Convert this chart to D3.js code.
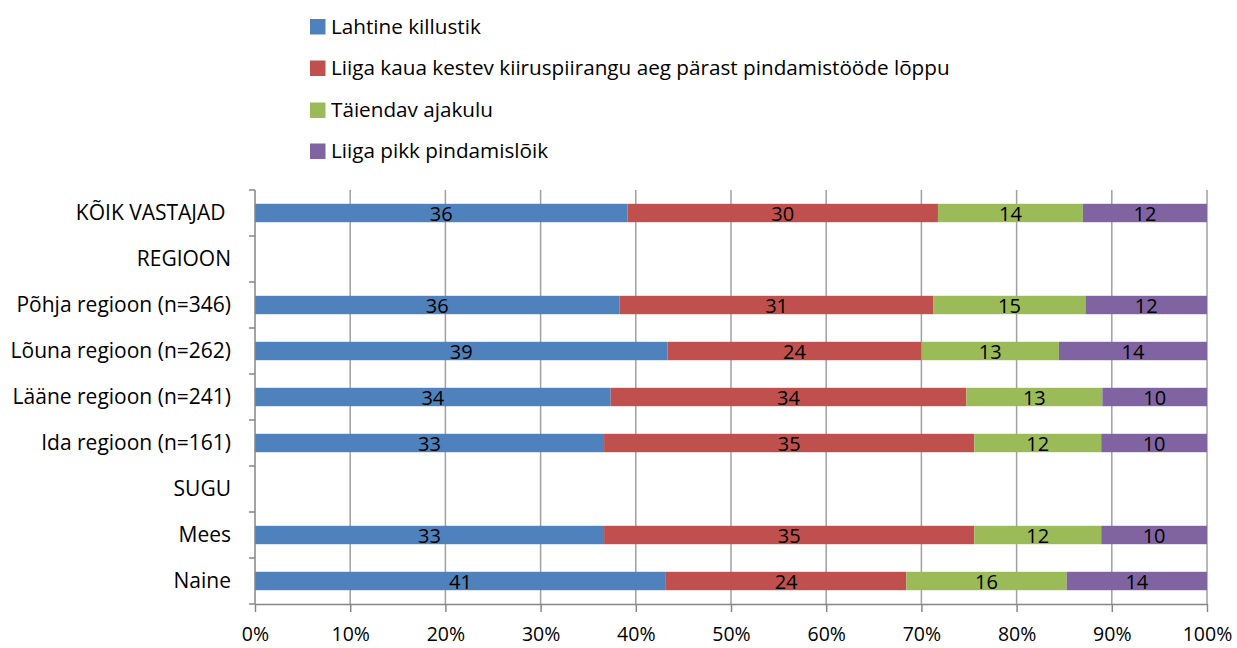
<!DOCTYPE html>
<html>
<head>
<meta charset="utf-8">
<title>Pindamistööd</title>
<style>
body { margin: 0; background: #fff; }
text { font-family: "Open Sans", sans-serif; fill: #000; }
.grid line { stroke: #a0a0a0; stroke-width: 1.5; }
.axis path, .axis line { stroke: #868686; stroke-width: 1.5; }
</style>
</head>
<body>
<svg width="1237" height="648"></svg>
<script src="https://d3js.org/d3.v7.min.js"></script>
<script>

// categories, top to bottom
var categories = ["KÕIK VASTAJAD ", "REGIOON", "Põhja regioon (n=346)", "Lõuna regioon (n=262)",
                  "Lääne regioon (n=241)", "Ida regioon (n=161)", "SUGU", "Mees", "Naine"];

var seriesNames = ["Lahtine killustik",
                   "Liiga kaua kestev kiiruspiirangu aeg pärast pindamistööde lõppu",
                   "Täiendav ajakulu",
                   "Liiga pikk pindamislõik"];

var colors = ["#4f81bd", "#c0504d", "#9bbb59", "#8064a2"];

// values per series (null = header row, no bar)
var lahtine   = [36, null, 36, 39, 34, 33, null, 33, 41];
var kiirus    = [30, null, 31, 24, 34, 35, null, 35, 24];
var ajakulu   = [14, null, 15, 13, 13, 12, null, 12, 16];
var pindamis  = [12, null, 12, 14, 10, 10, null, 10, 14];

var tickLabels = ["0%", "10%", "20%", "30%", "40%", "50%", "60%", "70%", "80%", "90%", "100%"];

var allSeries = [lahtine, kiirus, ajakulu, pindamis];

var svg = d3.select("svg"),
    margin = {top: 190, right: 30, bottom: 44, left: 255},
    width = 1207 - margin.left,
    height = 604 - margin.top;

var x = d3.scaleLinear().domain([0, 1]).range([0, width]);
var y = d3.scaleBand().domain(categories).range([0, height]).paddingInner(0.6).paddingOuter(0.3);

var g = svg.append("g")
    .attr("transform", "translate(" + margin.left + "," + margin.top + ")");

// vertical gridlines
g.append("g")
    .attr("class", "grid")
  .selectAll("line")
  .data(d3.range(1, 11))
  .enter().append("line")
    .attr("x1", function(d) { return x(d / 10); })
    .attr("x2", function(d) { return x(d / 10); })
    .attr("y1", 0)
    .attr("y2", height);

// build stacked rows normalised to 100%
var rows = categories.map(function(c, i) {
  var vals = allSeries.map(function(s) { return s[i]; });
  if (vals[0] == null) return null;
  var total = d3.sum(vals), cum = 0;
  return vals.map(function(v, k) {
    var seg = {cat: c, k: k, v: v, x0: cum / total, x1: (cum + v) / total};
    cum += v;
    return seg;
  });
}).filter(function(r) { return r; });

var segs = [].concat.apply([], rows);

g.selectAll(".bar")
  .data(segs)
  .enter().append("rect")
    .attr("class", "bar")
    .attr("x", function(d) { return x(d.x0); })
    .attr("y", function(d) { return y(d.cat); })
    .attr("width", function(d) { return x(d.x1) - x(d.x0); })
    .attr("height", y.bandwidth())
    .attr("fill", function(d) { return colors[d.k]; });

g.selectAll(".lbl")
  .data(segs)
  .enter().append("text")
    .attr("class", "lbl")
    .attr("x", function(d) { return x((d.x0 + d.x1) / 2); })
    .attr("y", function(d) { return y(d.cat) + y.bandwidth() / 2 + 8; })
    .attr("text-anchor", "middle")
    .style("font-size", "20px")
    .text(function(d) { return d.v; });

// x axis
var xAxis = g.append("g")
    .attr("class", "axis")
    .attr("transform", "translate(0," + height + ")")
    .call(d3.axisBottom(x).tickValues(d3.range(0, 11).map(function(d) { return d / 10; }))
      .tickFormat(function(d, i) { return tickLabels[i]; })
      .tickSizeInner(8).tickSizeOuter(0).tickPadding(15));
xAxis.selectAll("text").style("font-size", "19.5px");

// y axis: line plus ticks at row boundaries
var yAxis = g.append("g").attr("class", "axis");
yAxis.append("line")
    .attr("x1", 0).attr("x2", 0).attr("y1", 0).attr("y2", height);
yAxis.selectAll(".tk")
  .data(d3.range(0, categories.length + 1))
  .enter().append("line")
    .attr("class", "tk")
    .attr("x1", -6).attr("x2", 0)
    .attr("y1", function(d) { return d * y.step(); })
    .attr("y2", function(d) { return d * y.step(); });

g.selectAll(".cat")
  .data(categories)
  .enter().append("text")
    .attr("class", "cat")
    .attr("x", -24)
    .attr("y", function(d) { return y(d) + y.bandwidth() / 2 + 7; })
    .attr("text-anchor", "end")
    .style("font-size", "21px")
    .style("white-space", "pre")
    .text(function(d) { return d; });

// legend
var legend = svg.append("g").attr("transform", "translate(310,0)");
var legY = [26.5, 68, 110, 151];
seriesNames.forEach(function(name, i) {
  legend.append("rect")
      .attr("x", 0).attr("y", legY[i] - 7.5)
      .attr("width", 15.5).attr("height", 15.5)
      .attr("fill", colors[i]);
  legend.append("text")
      .attr("x", 21).attr("y", legY[i] + 7)
      .style("font-size", "20.7px")
      .text(name);
});

</script>
</body>
</html>
